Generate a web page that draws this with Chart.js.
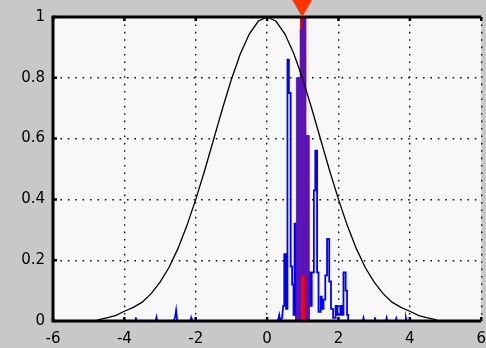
<!DOCTYPE html>
<html>
<head>
<meta charset="utf-8">
<script src="https://cdn.jsdelivr.net/npm/chart.js@4/dist/chart.umd.min.js"></script>
<style>
html,body{margin:0;padding:0;background:#c8c8c8;overflow:hidden;width:486px;height:348px;}
#wrap{position:relative;width:495px;height:348px;}
</style>
</head>
<body>
<div id="wrap"><canvas id="c"></canvas></div>
<script>
// ---- data ----
const xTicks = [-6, -4, -2, 0, 2, 4, 6];
const yTicks = [0, 0.2, 0.4, 0.6, 0.8, 1];

// black prior curve
const curveX = [-4.75,-4.5,-4.25,-4,-3.75,-3.5,-3.25,-3,-2.75,-2.5,-2.25,-2,-1.75,-1.5,-1.25,-1,-0.75,-0.5,-0.25,0,0.25,0.5,0.75,1,1.25,1.5,1.75,2,2.25,2.5,2.75,3,3.25,3.5,3.75,4,4.25,4.5,4.75];
const curveY = [0.004,0.01,0.018,0.032,0.045,0.062,0.09,0.128,0.176,0.238,0.313,0.4,0.495,0.597,0.699,0.795,0.879,0.944,0.986,1,0.986,0.944,0.879,0.795,0.699,0.597,0.495,0.4,0.313,0.238,0.176,0.128,0.09,0.062,0.045,0.032,0.018,0.01,0.004];

// blue weights trace
const weightX = [-4.2,-3.70,-3.68,-3.66,-3.12,-3.10,-3.08,-2.62,-2.58,-2.55,-2.52,-2.15,-2.13,-2.11,
  0.30,0.34,0.37,0.42,0.45,0.48,0.48,0.53,0.53,0.57,0.57,0.61,0.61,0.66,0.66,0.70,0.70,0.74,0.74,0.77,0.77,0.81,0.81,
  1.17,1.17,1.21,1.21,1.25,1.25,1.31,1.31,1.35,1.35,1.40,1.40,1.44,1.44,1.50,1.50,1.53,1.53,1.58,1.58,1.63,1.63,1.68,1.68,1.74,1.74,1.79,1.79,1.85,1.85,1.92,1.92,1.97,1.97,2.05,2.05,2.10,2.10,2.14,2.14,2.20,2.20,2.24,2.24,2.27,2.27,
  2.68,2.70,2.72,3.00,3.02,3.04,3.33,3.35,3.37,3.60,3.62,3.64,3.87,3.89,3.91,4.3];
const weightY = [0,0,0.012,0,0,0.012,0,0,0.012,0.035,0,0,0.01,0,
  0,0.02,0,0.01,0.05,0.05,0.22,0.22,0.04,0.04,0.86,0.86,0.75,0.75,0.18,0.18,0.12,0.12,0.02,0.02,0.32,0.32,0,
  0,0.16,0.16,0.05,0.05,0.16,0.16,0.43,0.43,0.56,0.56,0.16,0.16,0.03,0.03,0.08,0.08,0.04,0.04,0.07,0.07,0.15,0.15,0.27,0.27,0.13,0.13,0.04,0.04,0.01,0.01,0.05,0.05,0.02,0.02,0.05,0.05,0.02,0.02,0.16,0.16,0.10,0.10,0.02,0.02,0,
  0,0.01,0,0,0.012,0,0,0.01,0,0,0.008,0,0,0.01,0,0];

// dense (purple) block of weights
const blockX = [0.82,0.82,0.93,0.93,0.98,0.98,1.08,1.08,1.17,1.17];
const blockY = [0,0.80,0.80,0.96,0.96,1.0,1.0,0.61,0.61,0];

// true state (red)
const truthX = [0.96, 0.96];
const truthY = [0, 1];
const truthBaseX = [1.0, 1.0];
const truthBaseY = [0, 0.15];
const markerX = [0.98];
const markerY = [1.038];

const pts = (xs, ys) => xs.map((x, i) => ({x, y: ys[i]}));

const CURVE_INDEX = 0;
const framePlugin = {
  id: 'frame',
  beforeDraw(chart) {
    const {ctx, chartArea: a} = chart;
    ctx.save();
    ctx.fillStyle = '#c8c8c8';
    ctx.fillRect(0, 0, chart.width, chart.height);
    ctx.fillStyle = '#f8f8f8';
    ctx.fillRect(a.left, a.top, a.right - a.left, a.bottom - a.top);
    ctx.restore();
  },
  afterDatasetDraw(chart, args) {
    if (args.index !== CURVE_INDEX) return;
    const {ctx, chartArea: a, scales} = chart;
    ctx.save();
    ctx.strokeStyle = '#000';
    ctx.lineWidth = 3;
    ctx.beginPath();
    ctx.moveTo(a.right, a.top);
    ctx.lineTo(a.left, a.top);
    ctx.lineTo(a.left, a.bottom);
    ctx.lineTo(a.right, a.bottom);
    ctx.stroke();
    ctx.lineWidth = 2.5;
    ctx.beginPath();
    xTicks.forEach(v => {
      const px = scales.x.getPixelForValue(v);
      ctx.moveTo(px, a.top); ctx.lineTo(px, a.top + 4);
      ctx.moveTo(px, a.bottom); ctx.lineTo(px, a.bottom - 4);
    });
    yTicks.forEach(v => {
      const py = scales.y.getPixelForValue(v);
      ctx.moveTo(a.left, py); ctx.lineTo(a.left + 4, py);
    });
    ctx.stroke();
    // state marker (drawn above the frame, through the chart scales)
    markerX.forEach((mx, i) => {
      ctx.fillStyle = '#ff3300';
      Chart.helpers.drawPoint(ctx, {pointStyle: 'triangle', rotation: 180, radius: 11.5, borderWidth: 0},
        scales.x.getPixelForValue(mx), scales.y.getPixelForValue(markerY[i]));
    });
    ctx.restore();
  }
};

const font = {family: 'DejaVu Sans', size: 15};

new Chart(document.getElementById('c'), {
  type: 'scatter',
  data: {
    datasets: [
      {data: pts(curveX, curveY), showLine: true, borderColor: '#000', borderWidth: 1.3,
       pointRadius: 0, tension: 0, order: 1},
      {data: pts(truthBaseX, truthBaseY), showLine: true, borderColor: '#ff0000', borderWidth: 4,
       pointRadius: 0, order: 2},
      {data: pts(blockX, blockY), showLine: true, borderColor: '#5a14b4', borderWidth: 1,
       backgroundColor: '#5a14b4', fill: 'origin', pointRadius: 0, order: 3},
      {data: pts(truthX, truthY), showLine: true, borderColor: '#ff0000', borderWidth: 3,
       pointRadius: 0, order: 4},
      {data: pts(weightX, weightY), showLine: true, borderColor: '#0000ff', borderWidth: 1.8,
       pointRadius: 0, tension: 0, order: 5}
    ]
  },
  options: {
    responsive: true,
    maintainAspectRatio: false,
    animation: false,
    events: [],
    layout: {padding: {top: 15.5, right: 6.5, left: 0, bottom: 0}},
    plugins: {legend: {display: false}, tooltip: {enabled: false}},
    scales: {
      x: {
        type: 'linear', min: -6, max: 6,
        afterBuildTicks: s => { s.ticks = xTicks.map(v => ({value: v})); },
        afterFit: s => { s.height = 27; },
        ticks: {font, color: '#000', padding: 9, autoSkip: false, maxRotation: 0,
                callback: v => String(v)},
        grid: {color: '#111', lineWidth: 1.4, drawTicks: false},
        border: {display: false, dash: [1.6, 5.8]}
      },
      y: {
        type: 'linear', min: 0, max: 1,
        afterBuildTicks: s => { s.ticks = yTicks.map(v => ({value: v})); },
        afterFit: s => { s.width = 53; },
        ticks: {font, color: '#000', padding: 8,
                callback: v => String(Math.round(v * 10) / 10)},
        grid: {color: '#111', lineWidth: 1.4, drawTicks: false},
        border: {display: false, dash: [1.6, 5.8]}
      }
    }
  },
  plugins: [framePlugin]
});
</script>
</body>
</html>
